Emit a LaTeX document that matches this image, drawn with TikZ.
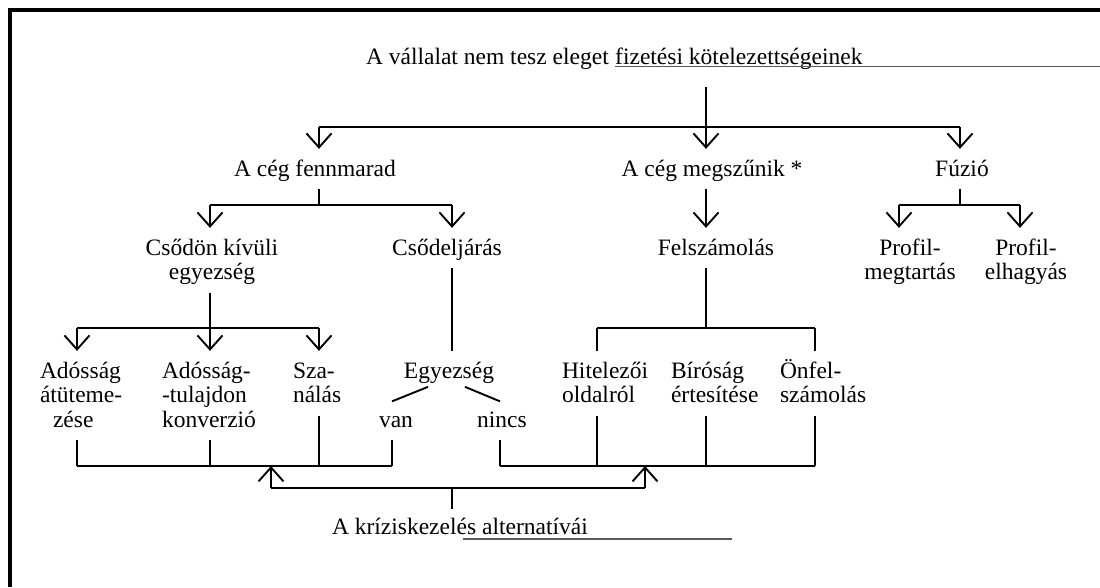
\documentclass[tikz,border=0pt]{standalone}
\usepackage{fontspec}
\setmainfont{Liberation Serif}
\usetikzlibrary{arrows.meta}
\begin{document}
\begin{tikzpicture}[x=1pt,y=-1pt,
  line width=1.9pt,
  lbl/.style={inner sep=0pt, outer sep=0pt, font=\fontsize{23.5}{24.5}\selectfont, anchor=north},
  lblL/.style={lbl, anchor=north west, align=left},
  lblC/.style={lbl, align=center},
  tip/.style={-{Straight Barb[length=14pt,width=25pt]}},
  into/.style={tip, shorten >=10pt},
  from/.style={shorten <=6pt},
  plain/.style={shorten >=10pt},
  uline/.style={line width=1.4pt, black!65}]

\useasboundingbox (0,0) rectangle (1100,587);

% frame
\draw[line width=4pt] (10,587) -- (10,10) -- (1100,10);
\coordinate (fr) at (1100,10);

% headline
\node[lbl, anchor=base west] (t1) at (366,64) {\strut A vállalat nem tesz eleget};
\node[lbl, anchor=base west] (t2) at ([xshift=6.5pt]t1.base east) {\strut fizetési kötelezettségeinek};
\coordinate (ul0) at ([yshift=-2.5pt]t2.base west);
\draw[uline] (ul0) -- (ul0 -| fr);

% first level (baseline 176)
\node[lblC] (fenn)  at (315,158.85) {\strut A cég fennmarad};
\node[lblC] (megsz) at (712,158.85) {\strut A cég megszűnik *};
\node[lblC] (fuzio) at (962,158.85) {\strut Fúzió};

% second level (baseline 255)
\node[lblC] (csodon)  at (212,237.85) {\strut Csődön kívüli\\\strut egyezség};
\node[lblC] (csodelj) at (447,237.85) {\strut Csődeljárás};
\node[lblC] (felsz)   at (716,237.85) {\strut Felszámolás};
\node[lblC] (prof1)   at (910,237.85) {\strut Profil-\\\strut megtartás};
\node[lblC] (prof2)   at (1026,237.85) {\strut Profil-\\\strut elhagyás};

% third level (baseline 378)
\node[lblL] (adatut)  at (40,360.85)  {\strut Adósság\\\strut átüteme-\\\hspace*{13pt}\strut zése};
\node[lblL] (konv)    at (162,360.85) {\strut Adósság-\\\strut -tulajdon\\\strut konverzió};
\node[lblL] (szan)    at (293,360.85) {\strut Sza-\\\strut nálás};
\node[lblC] (egyez)   at (449,360.85) {\strut Egyezség};
\node[lblC] (van)     at (396,409.85) {\strut van};
\node[lblC] (nincs)   at (502,409.85) {\strut nincs};
\node[lblL] (hitel)   at (562,360.85) {\strut Hitelezői\\\strut oldalról};
\node[lblL] (birosag) at (671,360.85) {\strut Bíróság\\\strut értesítése};
\node[lblL] (onfel)   at (780,360.85) {\strut \smash{Ö}nfel-\\\strut számolás};

% result
\node[lbl, anchor=base west] (bottom) at (332,534) {\strut A kríziskezelés alternatívái};
\draw[uline] ([xshift=131pt,yshift=-5pt]bottom.base west) -- ([xshift=400pt,yshift=-5pt]bottom.base west);

% headline to first level
\coordinate (jA) at (706,127);
\coordinate (jL) at (319,127);
\coordinate (jR) at (960,127);
\draw[into, shorten <=16pt] (t2.south -| jA) -- (jA |- megsz.north);
\draw (jL) -- (jR);
\draw[into] (jL) -- (jL |- fenn.north);
\draw[into] (jR) -- (jR |- fuzio.north);

% first to second level
\coordinate (b1)  at (319,205);
\coordinate (b1l) at (210,205);
\coordinate (b1r) at (452,205);
\draw[from] (fenn.south -| b1) -- (b1);
\draw (b1l) -- (b1r);
\draw[into] (b1l) -- (b1l |- csodon.north);
\draw[into] (b1r) -- (b1r |- csodelj.north);

\draw[from, into] (megsz.south -| jA) -- (jA |- felsz.north);

\coordinate (b3)  at (960,205);
\coordinate (b3l) at (899,205);
\coordinate (b3r) at (1020,205);
\draw[from] (fuzio.south -| b3) -- (b3);
\draw (b3l) -- (b3r);
\draw[into] (b3l) -- (b3l |- prof1.north);
\draw[into] (b3r) -- (b3r |- prof2.north);

% second to third level
\coordinate (c1)  at (210,328);
\coordinate (c1l) at (77,328);
\coordinate (c1r) at (319,328);
\draw[from, into] (csodon.south -| c1) -- (c1 |- konv.north);
\draw (c1l) -- (c1r);
\draw[into] (c1l) -- (c1l |- adatut.north);
\draw[into] (c1r) -- (c1r |- szan.north);

\draw[from, plain] (csodelj.south -| b1r) -- (b1r |- egyez.north);

\coordinate (c2)  at (706,328);
\coordinate (c2l) at (597,328);
\coordinate (c2r) at (815,328);
\draw[from] (felsz.south -| c2) -- (c2);
\draw (c2l) -- (c2r);
\draw[plain] (c2l) -- (c2l |- hitel.north);
\draw[plain] (c2r) -- (c2r |- onfel.north);

% Egyezseg: van / nincs
\draw ([xshift=-21pt,yshift=-1.5pt]egyez.south) -- ([xshift=-4pt,yshift=8.5pt]van.north);
\draw ([xshift=16pt,yshift=-1.5pt]egyez.south) -- ([xshift=-2pt,yshift=8.5pt]nincs.north);

% collecting lines
\coordinate (d1l) at (77,466);
\coordinate (d1b) at (210,466);
\coordinate (d1c) at (319,466);
\coordinate (d1r) at (392,466);
\coordinate (d2l) at (500,466);
\coordinate (d2b) at (597,466);
\coordinate (d2c) at (706,466);
\coordinate (d2r) at (815,466);
\draw[from] (adatut.south -| d1l) -- (d1l);
\draw[from] (konv.south -| d1b) -- (d1b);
\draw[from] (szan.south -| d1c) -- (d1c);
\draw[from] (van.south -| d1r) -- (d1r);
\draw (d1l) -- (d1r);
\draw[from] (nincs.south -| d2l) -- (d2l);
\draw[from] (hitel.south -| d2b) -- (d2b);
\draw[from] (birosag.south -| d2c) -- (d2c);
\draw[from] (onfel.south -| d2r) -- (d2r);
\draw (d2l) -- (d2r);

% alternatives
\coordinate (e1) at (271,488);
\coordinate (e2) at (645,488);
\coordinate (e0) at (452,488);
\draw (e1) -- (e2);
\draw[tip] (e1) -- (e1 |- d1l);
\draw[tip] (e2) -- (e2 |- d2l);
\draw[shorten >=7.5pt] (e0) -- (e0 |- bottom.north);
\end{tikzpicture}
\end{document}
